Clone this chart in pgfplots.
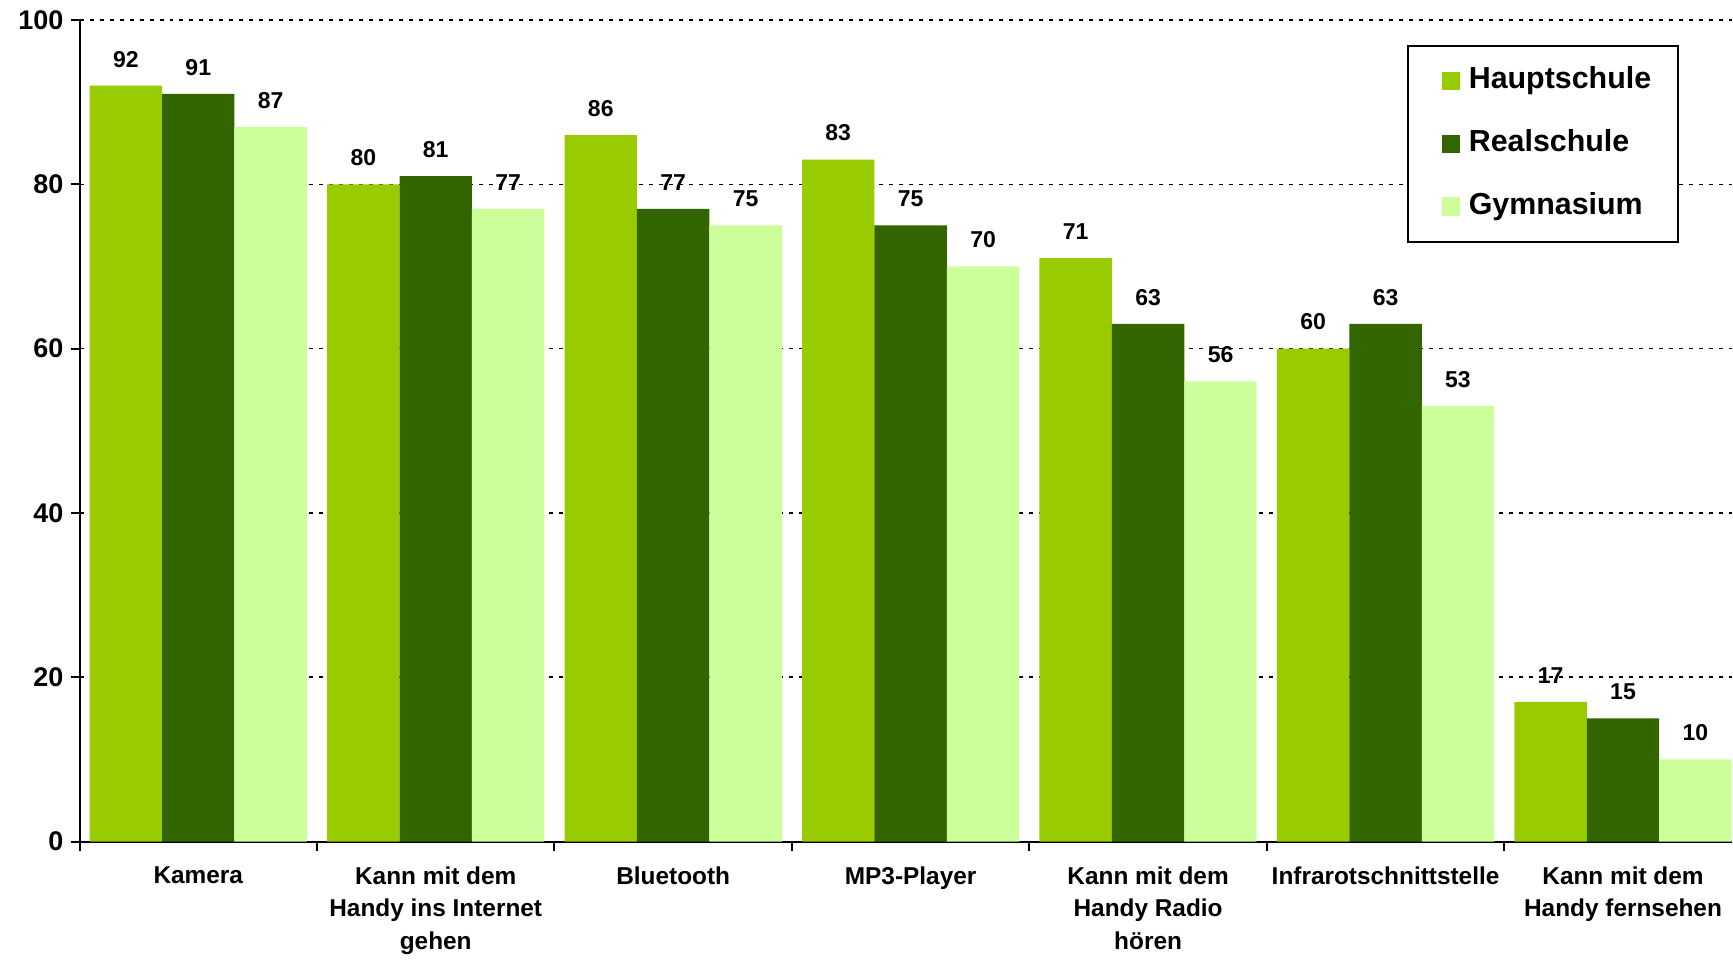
\documentclass[border=0pt]{standalone}
\usepackage{fontspec}
\setmainfont{Liberation Sans}
\usepackage{pgfplots}
\pgfplotsset{compat=1.18}

\definecolor{haupt}{HTML}{99CC00}
\definecolor{real}{HTML}{336600}
\definecolor{gym}{HTML}{CCFF99}

\pgfplotsset{
    mybar/.style={
        draw=none, fill=#1,
        bar width=0.305,
        legend image code/.code={
            \path (-5.5pt,0pt) (11.6pt,0pt);
            \fill[#1] (0pt,-4.7pt) rectangle (9.4pt,4.7pt);
        }
    }
}

\begin{document}
\begin{tikzpicture}
    \begin{axis}[
        scale only axis,
        width  = 826.7pt,
        height = 411pt,
        ybar=0pt,
        ymin=0, ymax=100,
        xmin=-0.5, xmax=6.459,
        axis x line=bottom,
        axis y line=left,
        axis line style={-, line width=1pt, black},
        ytick={0,20,...,100},
        xtick={0,...,6},
        minor xtick={-0.5,0.5,...,5.5},
        major x tick style={draw=none},
        minor x tick style={line width=1pt, black},
        minor tick length=4.5pt,
        major tick length=4.5pt,
        y tick style={line width=1pt, black},
        tick align=outside,
        ymajorgrids=true,
        grid style={black, line width=0.75pt, dash pattern=on 2pt off 3pt},
        /pgf/number format/assume math mode=true,
        yticklabel style={font=\bfseries\fontsize{13.5}{16}\selectfont},
        xticklabels={
            Kamera,
            {Kann mit dem\\Handy ins Internet\\gehen},
            Bluetooth,
            MP3-Player,
            {Kann mit dem\\Handy Radio\\hören},
            Infrarotschnittstelle,
            {Kann mit dem\\Handy fernsehen}
        },
        xticklabel style={font=\bfseries\fontsize{12.2}{16.3}\selectfont,
            align=center, anchor=north, yshift=-4.5pt},
        nodes near coords,
        nodes near coords style={font=\bfseries\fontsize{11.5}{13}\selectfont,
            yshift=5.7pt, black},
        legend cell align=left,
        legend style={
            at={(0.968,0.9696)}, anchor=north east,
            draw=black, line width=1pt,
            inner xsep=11.5pt, inner ysep=9.5pt,
            row sep=15.5pt,
            font=\bfseries\fontsize{15.2}{18}\selectfont,
            nodes={inner sep=2pt, text height=10pt, text depth=2pt}
        }
    ]
    \addplot[mybar=haupt, bar shift=-0.305] coordinates {
        (0,92) (1,80) (2,86) (3,83) (4,71) (5,60) (6,17)
    };
    \addplot[mybar=real, bar shift=0] coordinates {
        (0,91) (1,81) (2,77) (3,75) (4,63) (5,63) (6,15)
    };
    \addplot[mybar=gym, bar shift=0.305] coordinates {
        (0,87) (1,77) (2,75) (3,70) (4,56) (5,53) (6,10)
    };
    \legend{Hauptschule, Realschule, Gymnasium}
    \end{axis}
    \path ([xshift=-39.8pt,yshift=-56.5pt]current axis.south west)
        rectangle ([yshift=10pt]current axis.north east);
\end{tikzpicture}
\end{document}
